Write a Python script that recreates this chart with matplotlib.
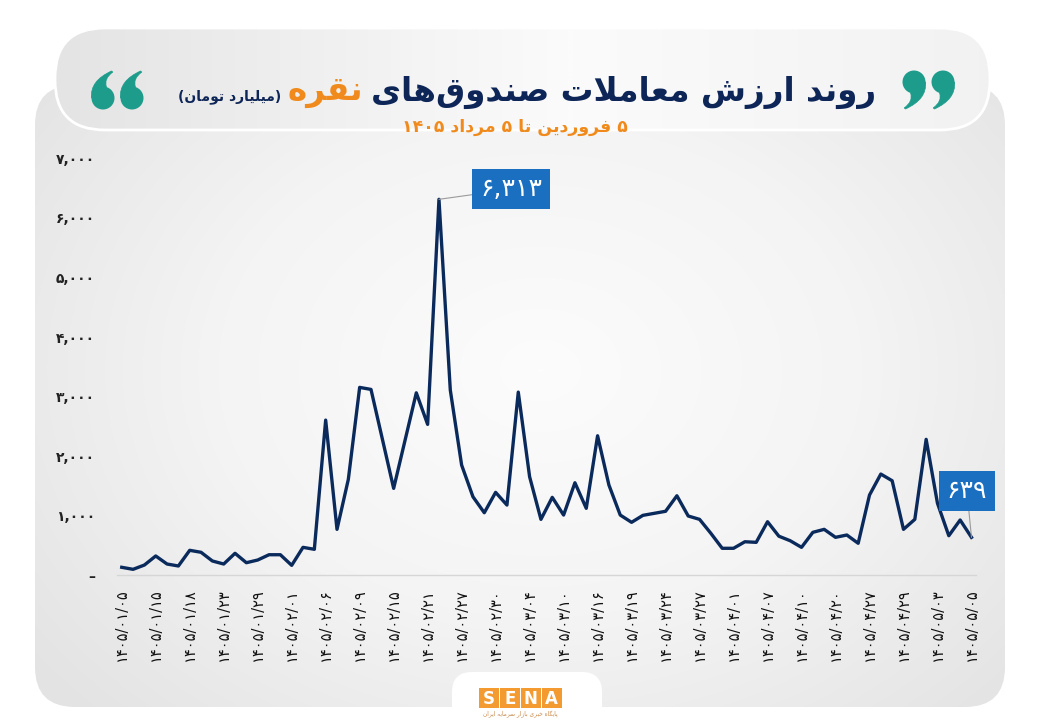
import numpy as np
import matplotlib
matplotlib.use('Agg')
import matplotlib.pyplot as plt
from matplotlib.patches import FancyBboxPatch, Rectangle, Circle, PathPatch
from matplotlib.path import Path
from matplotlib.colors import LinearSegmentedColormap

# ---------------- data ----------------
values = [136, 102, 174, 326, 191, 158, 421, 388, 242, 191, 371, 213, 258, 347, 347, 169, 471, 438, 2607, 773,
          1612, 3156, 3122, 2292, 1461, 2263, 3065, 2535, 6313, 3111, 1852, 1320, 1052, 1394, 1181, 3077, 1656, 941, 1310, 1013,
          1555, 1126, 2344, 1517, 1013, 891, 1008, 1042, 1076, 1337, 997, 941, 706, 455, 455, 565, 555, 901, 658, 582,
          471, 723, 773, 639, 678, 539, 1349, 1701, 1589, 773, 941, 2284, 1210, 666, 930, 639]

tick_dates = ['1405/01/05', '1405/01/15', '1405/01/18', '1405/01/23', '1405/01/29', '1405/02/01',
              '1405/02/06', '1405/02/09', '1405/02/15', '1405/02/21', '1405/02/27', '1405/02/30',
              '1405/03/04', '1405/03/10', '1405/03/16', '1405/03/19', '1405/03/24', '1405/03/27',
              '1405/04/01', '1405/04/07', '1405/04/10', '1405/04/20', '1405/04/27', '1405/04/29',
              '1405/05/03', '1405/05/05']

y_ticks = [0, 1000, 2000, 3000, 4000, 5000, 6000, 7000]

title_main = 'روند ارزش معاملات صندوق‌های'
title_hl = 'نقره'
title_unit = '(میلیارد تومان)'
subtitle = '۵ فروردین تا ۵ مرداد ۱۴۰۵'
logo_sub = 'پایگاه خبری بازار سرمایه ایران'

# ---------------- Persian text helpers ----------------
FA_DIGITS = str.maketrans('0123456789', '۰۱۲۳۴۵۶۷۸۹')


def fa(s):
    return str(s).translate(FA_DIGITS)


FORMS = {
    'ا': ('\uFE8D', '\uFE8E', None, None),
    'ب': ('\uFE8F', '\uFE90', '\uFE91', '\uFE92'),
    'پ': ('\uFB56', '\uFB57', '\uFB58', '\uFB59'),
    'ت': ('\uFE95', '\uFE96', '\uFE97', '\uFE98'),
    'ج': ('\uFE9D', '\uFE9E', '\uFE9F', '\uFEA0'),
    'خ': ('\uFEA5', '\uFEA6', '\uFEA7', '\uFEA8'),
    'د': ('\uFEA9', '\uFEAA', None, None),
    'ر': ('\uFEAD', '\uFEAE', None, None),
    'ز': ('\uFEAF', '\uFEB0', None, None),
    'س': ('\uFEB1', '\uFEB2', '\uFEB3', '\uFEB4'),
    'ش': ('\uFEB5', '\uFEB6', '\uFEB7', '\uFEB8'),
    'ص': ('\uFEB9', '\uFEBA', '\uFEBB', '\uFEBC'),
    'ع': ('\uFEC9', '\uFECA', '\uFECB', '\uFECC'),
    'ف': ('\uFED1', '\uFED2', '\uFED3', '\uFED4'),
    'ق': ('\uFED5', '\uFED6', '\uFED7', '\uFED8'),
    'گ': ('\uFB92', '\uFB93', '\uFB94', '\uFB95'),
    'ل': ('\uFEDD', '\uFEDE', '\uFEDF', '\uFEE0'),
    'م': ('\uFEE1', '\uFEE2', '\uFEE3', '\uFEE4'),
    'ن': ('\uFEE5', '\uFEE6', '\uFEE7', '\uFEE8'),
    'ه': ('\uFEE9', '\uFEEA', '\uFEEB', '\uFEEC'),
    'و': ('\uFEED', '\uFEEE', None, None),
    'ی': ('\uFEEF', '\uFEF0', '\uFEF3', '\uFEF4'),
}
MIRROR = {'(': ')', ')': '('}


def shape(s):
    toks = []
    i = 0
    while i < len(s):
        if s[i] == 'ل' and i + 1 < len(s) and s[i + 1] == 'ا':
            toks.append('LA')
            i += 2
        else:
            toks.append(s[i])
            i += 1

    def is_letter(t):
        return t == 'LA' or t in FORMS

    def joins_next(t):
        return t in FORMS and FORMS[t][2] is not None

    res = []
    for k, t in enumerate(toks):
        prev = toks[k - 1] if k > 0 else None
        nxt = toks[k + 1] if k + 1 < len(toks) else None
        cp = prev is not None and joins_next(prev) and is_letter(t)
        if t == 'LA':
            res.append('\uFEFC' if cp else '\uFEFB')
            continue
        if t not in FORMS:
            if t != '\u200c':
                res.append(t)
            continue
        f = FORMS[t]
        cn = f[2] is not None and nxt is not None and is_letter(nxt)
        if cp and cn:
            res.append(f[3])
        elif cp:
            res.append(f[1])
        elif cn:
            res.append(f[2])
        else:
            res.append(f[0])
    runs = []
    for c in res:
        isd = c.isdigit() or c in ',/'
        if runs and runs[-1][0] == isd:
            runs[-1][1].append(c)
        else:
            runs.append([isd, [c]])
    out = []
    for isd, cs in reversed(runs):
        if isd:
            out.extend(cs)
        else:
            out.extend(MIRROR.get(c, c) for c in reversed(cs))
    return ''.join(out)


FONT = ['DejaVu Sans']
NAVY = '#0d2557'
ORANGE = '#f08a1c'
TEAL = '#1d9c8b'
BLUE = '#1a6fc1'

# ---------------- figure & background ----------------
W, H = 1040, 720
fig = plt.figure(figsize=(W / 100, H / 100), dpi=100)
fig.patch.set_facecolor('white')
bg = fig.add_axes([0, 0, 1, 1], zorder=0)
bg.axis('off')

yy, xx = np.mgrid[0:H, 0:W]
d = np.sqrt(((xx - 540) / 560.0) ** 2 + ((yy - 370) / 430.0) ** 2)
cmap_bg = LinearSegmentedColormap.from_list('bg', ['#fcfcfc', '#f4f4f4', '#e3e3e3'])
panel = FancyBboxPatch((35, 85), 970, 622, boxstyle='round,pad=0,rounding_size=40',
                       fc='none', ec='none')
bg.add_patch(panel)
im = bg.imshow(d, cmap=cmap_bg, vmin=0, vmax=1.15, extent=[0, W, H, 0],
               interpolation='bilinear', aspect='auto', zorder=1)
im.set_clip_path(panel)

# title pill
pill = FancyBboxPatch((55, 28), 935, 102, boxstyle='round,pad=0,rounding_size=50',
                      fc='none', ec='#ffffff', lw=2, zorder=3)
bg.add_patch(pill)
gx = np.linspace(0, 1, 400)
prof = np.interp(gx, [0, 0.55, 1], [0.0, 1.0, 0.6])
cmap_p = LinearSegmentedColormap.from_list('p', ['#e4e4e4', '#fbfbfb'])
im2 = bg.imshow(prof[None, :], cmap=cmap_p, vmin=0, vmax=1, extent=[55, 990, 130, 28],
                interpolation='bilinear', aspect='auto', zorder=2)
im2.set_clip_path(pill)

# logo tab
tab = FancyBboxPatch((452, 672), 150, 70, boxstyle='round,pad=0,rounding_size=20',
                     fc='white', ec='none', zorder=3)
bg.add_patch(tab)
bg.set_xlim(0, W)
bg.set_ylim(H, 0)

for i, ch in enumerate('SENA'):
    x0 = 479 + i * 21
    bg.add_patch(Rectangle((x0, 688), 19.5, 20, fc='#f39a30', ec='none', zorder=4))
    bg.text(x0 + 9.75, 698.5, ch, color='white', fontsize=12, fontweight='bold',
            ha='center', va='center', zorder=5, family=FONT)
bg.text(520, 714, shape(logo_sub), color='#c98a4a', fontsize=4.2, ha='center', va='center',
        zorder=5, family=FONT)


# quote marks drawn as comma shapes (local units: r, y up)
def comma(cx, cy, r, flip):
    s = -1 if flip else 1
    verts_local = [(-1.0, 0.0), (-1.15, 1.5), (0.75, 2.35), (0.85, 2.25),
                   (0.05, 1.7), (0.3, 0.95), (0.3, 0.95)]
    codes = [Path.MOVETO, Path.CURVE3, Path.CURVE3, Path.LINETO,
             Path.CURVE3, Path.CURVE3, Path.CLOSEPOLY]
    verts = [(cx + s * vx * r, cy - s * vy * r) for vx, vy in verts_local]
    bg.add_patch(PathPatch(Path(verts, codes), fc=TEAL, ec=TEAL, lw=0.5, zorder=5))
    bg.add_patch(Circle((cx, cy), r, fc=TEAL, ec='none', zorder=5))


for cx in (103, 132):
    comma(cx, 98, 11.5, flip=False)
for cx in (914, 943):
    comma(cx, 82, 11.5, flip=True)

# title texts with width fitting (span approx 285..875 px)
renderer = fig.canvas.get_renderer()
fs0 = 27
t_main = bg.text(876, 92, shape(title_main), fontsize=fs0, fontweight='bold', color=NAVY,
                 ha='right', va='center', zorder=5, family=FONT)
t_hl = bg.text(0, 92, shape(title_hl), fontsize=fs0, fontweight='bold', color=ORANGE,
               ha='right', va='center', zorder=5, family=FONT)
w_main = t_main.get_window_extent(renderer).width
w_hl = t_hl.get_window_extent(renderer).width
scale = (876 - 287 - 8) / (w_main + w_hl)
fs = fs0 * scale
t_main.set_fontsize(fs)
t_hl.set_fontsize(fs)
left_main = t_main.get_window_extent(renderer).x0
t_hl.set_x(left_main - 8)
bb2 = t_hl.get_window_extent(renderer)
bg.text(bb2.x0 - 6, 97, shape(title_unit), fontsize=10, fontweight='bold', color=NAVY,
        ha='right', va='center', zorder=5, family=FONT)
bg.text(515, 127, shape(subtitle), fontsize=12.5, fontweight='bold', color=ORANGE,
        ha='center', va='center', zorder=5, family=FONT)

# ---------------- main chart ----------------
ax = fig.add_axes([117.2 / W, 1 - 575.4 / H, (976 - 117.2) / W, (575.4 - 158.4) / H], zorder=2)
ax.patch.set_alpha(0)
x = np.arange(len(values))
ax.plot(x, values, color='#0b2a5c', lw=2.4, solid_joinstyle='round', zorder=3)
ax.set_xlim(-0.4, len(values) - 1 + 0.4)
ax.set_ylim(y_ticks[0], y_ticks[-1])

ax.set_yticks(y_ticks)
ax.set_yticklabels(['–' if v == 0 else fa(f'{v:,}') for v in y_ticks],
                   fontsize=10, fontweight='bold', color='#222222', family=FONT)
ax.set_xticks(x[::3])
ax.set_xticklabels([fa(s) for s in tick_dates], rotation=90, fontsize=10.5,
                   color='#111111', family=FONT)
ax.tick_params(axis='y', length=0, pad=16)
ax.tick_params(axis='x', length=0, pad=9)
for s in ['left', 'right', 'top']:
    ax.spines[s].set_visible(False)
ax.spines['bottom'].set_color('#d6d6d6')
ax.spines['bottom'].set_linewidth(1.0)

# annotations
ipk = int(np.argmax(values))
ax.annotate(fa(f'{values[ipk]:,}'), xy=(ipk, values[ipk]), xytext=(34.4, 6483),
            ha='center', va='center', fontsize=18, color='white', family=FONT,
            bbox=dict(boxstyle='square,pad=0.32', fc=BLUE, ec='none'),
            arrowprops=dict(arrowstyle='-', color='#9a9a9a', lw=0.8, shrinkA=0, shrinkB=0),
            zorder=5)
ilast = len(values) - 1
ax.annotate(fa(f'{values[ilast]:,}'), xy=(ilast, values[ilast]), xytext=(74.6, 1416),
            ha='center', va='center', fontsize=18, color='white', family=FONT,
            bbox=dict(boxstyle='square,pad=0.32', fc=BLUE, ec='none'),
            arrowprops=dict(arrowstyle='-', color='#9a9a9a', lw=0.8, shrinkA=0, shrinkB=0),
            zorder=5)

fig.savefig('out.png', dpi=100, facecolor='white')
